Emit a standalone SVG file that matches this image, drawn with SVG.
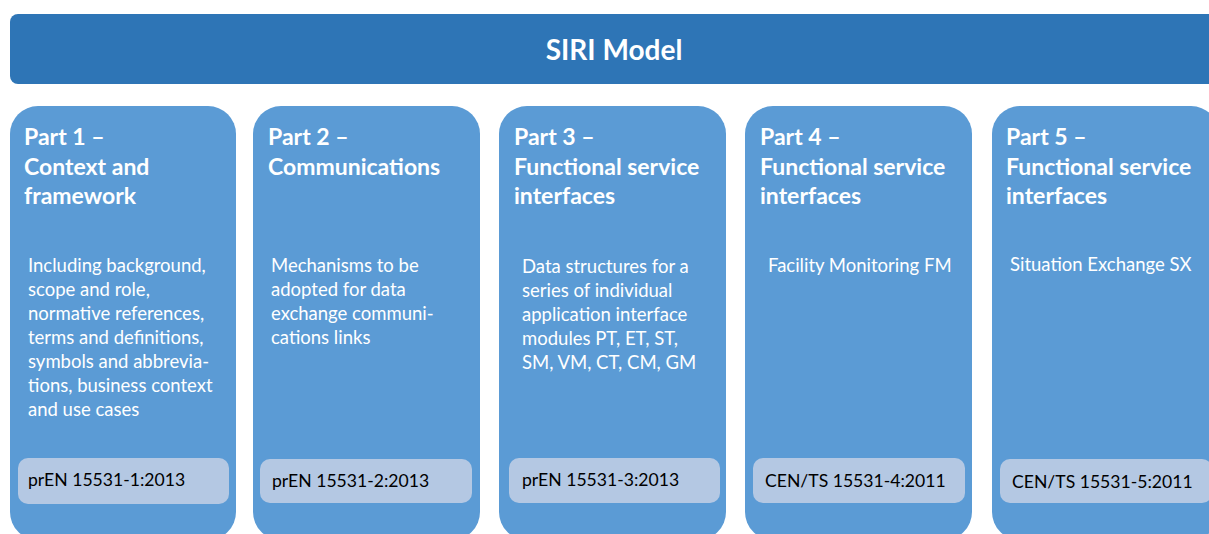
<svg xmlns="http://www.w3.org/2000/svg" width="1209" height="534" viewBox="0 0 1209 534">
<style>
.banner{fill:#2e75b6}
.col{fill:#5b9bd5}
.lbl{fill:#b4c8e3}
text{font-family:Lato,"Open Sans","Liberation Sans",sans-serif}
.title{fill:#fff;font-weight:bold;font-size:28px}
.head{fill:#fff;font-weight:bold;font-size:23px}
.body{fill:#fff;font-size:18.5px}
.code{fill:#000;font-size:17.6px}
</style>
<rect width="1209" height="534" fill="#fff"/>
<g id="banner">
<rect class="banner" x="10" y="14" width="1210" height="70" rx="8"/>
<text class="title" x="614" y="60" text-anchor="middle">SIRI Model</text>
</g>
<g id="part1">
<rect class="col" x="10" y="106" width="226" height="434" rx="28"/>
<text class="head"><tspan x="24" y="145">Part 1 –</tspan><tspan x="24" y="175">Context and</tspan><tspan x="24" y="204">framework</tspan></text>
<text class="body"><tspan x="28" y="272">Including background,</tspan><tspan x="28" y="296">scope and role,</tspan><tspan x="28" y="320">normative references,</tspan><tspan x="28" y="344">terms and definitions,</tspan><tspan x="28" y="368">symbols and abbrevia-</tspan><tspan x="28" y="392">tions, business context</tspan><tspan x="28" y="416">and use cases</tspan></text>
<rect class="lbl" x="18" y="458" width="211" height="46" rx="10"/>
<text class="code" x="28" y="486">prEN 15531-1:2013</text>
</g>
<g id="part2">
<rect class="col" x="253" y="106" width="227" height="434" rx="28"/>
<text class="head"><tspan x="268" y="145">Part 2 –</tspan><tspan x="268" y="175">Communications</tspan></text>
<text class="body"><tspan x="271" y="272">Mechanisms to be</tspan><tspan x="271" y="296">adopted for data</tspan><tspan x="271" y="320">exchange communi-</tspan><tspan x="271" y="344">cations links</tspan></text>
<rect class="lbl" x="260" y="459" width="212" height="44" rx="10"/>
<text class="code" x="272" y="487">prEN 15531-2:2013</text>
</g>
<g id="part3">
<rect class="col" x="499" y="106" width="227" height="434" rx="28"/>
<text class="head"><tspan x="514" y="145">Part 3 –</tspan><tspan x="514" y="175">Functional service</tspan><tspan x="514" y="204">interfaces</tspan></text>
<text class="body"><tspan x="522" y="273">Data structures for a</tspan><tspan x="522" y="297">series of individual</tspan><tspan x="522" y="321">application interface</tspan><tspan x="522" y="345">modules PT, ET, ST,</tspan><tspan x="522" y="369">SM, VM, CT, CM, GM</tspan></text>
<rect class="lbl" x="509" y="458" width="211" height="45" rx="10"/>
<text class="code" x="522" y="486">prEN 15531-3:2013</text>
</g>
<g id="part4">
<rect class="col" x="745" y="106" width="227" height="434" rx="28"/>
<text class="head"><tspan x="760" y="145">Part 4 –</tspan><tspan x="760" y="175">Functional service</tspan><tspan x="760" y="204">interfaces</tspan></text>
<text class="body" x="768" y="272">Facility Monitoring FM</text>
<rect class="lbl" x="753" y="458" width="212" height="45" rx="10"/>
<text class="code" x="765" y="487">CEN/TS 15531-4:2011</text>
</g>
<g id="part5">
<rect class="col" x="992" y="106" width="227" height="434" rx="28"/>
<text class="head"><tspan x="1006" y="145">Part 5 –</tspan><tspan x="1006" y="175">Functional service</tspan><tspan x="1006" y="204">interfaces</tspan></text>
<text class="body" x="1010" y="271">Situation Exchange SX</text>
<rect class="lbl" x="1000" y="459" width="212" height="44" rx="10"/>
<text class="code" x="1012" y="488">CEN/TS 15531-5:2011</text>
</g>
<g id="connectors"></g>
</svg>
